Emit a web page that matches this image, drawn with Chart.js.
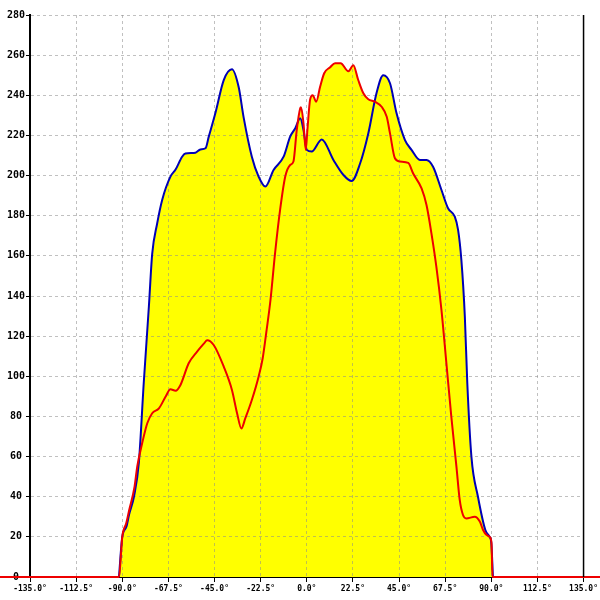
<!DOCTYPE html>
<html><head><meta charset="utf-8">
<script src="https://cdn.jsdelivr.net/npm/chart.js@4.4.1/dist/chart.umd.min.js"></script>
<style>html,body{margin:0;padding:0;background:#fff}#wrap{width:600px;height:600px}</style>
</head><body><div id="wrap"><canvas id="c" width="600" height="600"></canvas></div>
<script>
const xTickValues = [-135, -112.5, -90, -67.5, -45, -22.5, 0, 22.5, 45, 67.5, 90, 112.5, 135];
const yTickValues = [0, 20, 40, 60, 80, 100, 120, 140, 160, 180, 200, 220, 240, 260, 280];

const blueAngles = [-91.6, -90, -88, -86.7, -84.3, -81.9, -79.5, -77, -75.4, -73, -70.5, -66.5, -64, -60.8, -59.2, -54.3, -51.9, -49.4, -47.8, -44.6, -40.5, -36.5, -33.2, -30.8, -26.8, -23.5, -20.2, -16.2, -11.3, -8.1, -5.6, -3.2, -1.6, 0, 2.4, 7.3, 13, 17.9, 21.9, 26, 30, 34, 37.3, 40.6, 43.8, 47.9, 51.1, 55.2, 58.4, 61.6, 65.7, 68.9, 72.2, 73.8, 75.4, 77.1, 78.3, 80.3, 83.5, 87.1, 89.2, 90, 90.8];
const blueValues = [0, 20, 25, 31, 40, 57, 97, 135, 161, 176, 188, 199.5, 203, 209.4, 211, 211.4, 213, 213.6, 219.4, 231, 247.6, 253, 244, 229, 209.4, 199.5, 194.5, 202.8, 209.4, 219.4, 223.6, 228.5, 222.7, 212.8, 212, 218, 207.8, 200.3, 197.3, 206, 221, 241, 250, 246, 231, 217.7, 212.8, 207.8, 207.8, 204.4, 192.8, 183.7, 179.5, 172.9, 158, 129.7, 96.5, 60, 40, 23.4, 20, 17, 0];

const redAngles = [-150, -91.6, -90, -88, -86.7, -84, -82.7, -80.3, -77.8, -75.4, -72.1, -68.9, -66.5, -64, -61.6, -57.6, -53.5, -50, -48.6, -45.4, -40.5, -36.5, -34, -31.9, -30, -26.8, -23.5, -21.5, -19.6, -17.7, -15.5, -13, -10.5, -8.1, -6.5, -4.9, -3.2, -2.8, -1.6, -0.5, 0.3, 1.6, 2.9, 4.6, 6.5, 8.5, 11.4, 13.8, 16.5, 20.3, 22.7, 25.1, 27.6, 30, 33.3, 36.5, 39, 40.6, 43, 45.4, 49.5, 51.9, 56, 58.4, 60.8, 63.2, 65.7, 68.1, 70.5, 73, 74.6, 76.2, 77.8, 81.9, 84.4, 86, 87.6, 89.2, 90.1, 90.6, 150];
const redValues = [0, 0, 20, 27, 33, 45, 55, 66.6, 76.6, 81.6, 84, 89.8, 93.5, 92.8, 95.7, 106.5, 112.3, 116.5, 118, 115.6, 104.8, 93.2, 81.6, 74, 79, 88.2, 99.8, 109, 123, 138, 161, 183, 199.5, 205.3, 207, 222.7, 233.5, 234, 226, 212.8, 222.7, 237.7, 240, 236.8, 244.3, 251, 254, 256, 256, 252, 255, 247.6, 241, 238, 236.8, 234.3, 229.3, 221, 208.6, 207, 206.3, 201, 193.6, 185.3, 171.2, 154.6, 133, 106.5, 79.9, 55, 38.4, 30.9, 29.2, 30, 27.6, 23.4, 21, 20, 17, 0, 0];

const toPts = (xs, ys) => xs.map((x, i) => ({x: x, y: ys[i]}));

const framePlugin = {
  id: 'frame',
  afterDatasetsDraw(chart) {
    const {ctx, chartArea: a} = chart;
    ctx.save();
    ctx.strokeStyle = '#000';
    ctx.lineWidth = 1.5;
    ctx.beginPath();
    ctx.moveTo(a.right, a.top);
    ctx.lineTo(a.right, a.bottom);
    ctx.stroke();
    ctx.restore();
  }
};

const gridColor = 'rgba(140,140,140,0.55)';
const xFont = {family: 'DejaVu Sans Mono', size: 8, weight: 'bold'};
const yFont = {family: 'DejaVu Sans Mono', size: 10, weight: 'bold'};

new Chart(document.getElementById('c'), {
  type: 'line',
  data: {
    datasets: [
      {
        data: toPts(redAngles, redValues),
        borderColor: '#ee0000',
        borderWidth: 2,
        backgroundColor: '#ffff00',
        fill: 'origin',
        pointRadius: 0,
        cubicInterpolationMode: 'monotone',
        clip: false
      },
      {
        data: toPts(blueAngles, blueValues),
        borderColor: '#0000b8',
        borderWidth: 2,
        backgroundColor: '#ffff00',
        fill: 'origin',
        pointRadius: 0,
        cubicInterpolationMode: 'monotone'
      }
    ]
  },
  options: {
    responsive: false,
    devicePixelRatio: 1,
    animation: false,
    layout: {padding: {left: 0, right: 15, top: 15, bottom: 0}},
    plugins: {
      legend: {display: false},
      tooltip: {enabled: false},
      filler: {drawTime: 'beforeDraw'}
    },
    scales: {
      x: {
        type: 'linear',
        min: -135, max: 135,
        afterBuildTicks: s => { s.ticks = xTickValues.map(v => ({value: v})); },
        afterFit: s => { s.height = 23; },
        ticks: {
          autoSkip: false, maxRotation: 0, color: '#000', font: xFont, padding: 2,
          callback: v => v.toFixed(1) + '°'
        },
        grid: {color: gridColor, tickColor: '#000', tickLength: 5, lineWidth: 1},
        border: {color: '#000', width: 1, dash: [3, 3]}
      },
      y: {
        min: 0, max: 280,
        afterBuildTicks: s => { s.ticks = yTickValues.map(v => ({value: v})); },
        afterFit: s => { s.width = 30; },
        ticks: {color: '#000', font: yFont, padding: 1, crossAlign: 'center'},
        grid: {color: gridColor, tickColor: '#000', tickLength: 4, lineWidth: 1},
        border: {color: '#000', width: 2, dash: [3, 3]}
      }
    }
  },
  plugins: [framePlugin]
});
</script>
</body></html>
